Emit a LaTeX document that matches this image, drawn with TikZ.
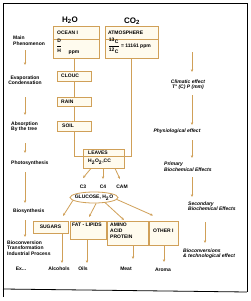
\documentclass[tikz,border=0pt]{standalone}
\usepackage{fontspec}
\setmainfont{Liberation Sans}
\usetikzlibrary{arrows.meta,shapes.geometric}
\definecolor{gold}{RGB}{208,160,88}
\definecolor{cream}{RGB}{255,251,238}
\begin{document}
\begin{tikzpicture}[x=1pt,y=-1pt,
  box/.style={draw=gold, fill=cream, line width=0.8pt, inner sep=0, rectangle},
  t/.style={font=\fontsize{5}{5.5}\selectfont\bfseries, inner sep=0, text=black},
  it/.style={font=\fontsize{5}{5.5}\selectfont\bfseries\itshape, inner sep=0, text=black},
  hd/.style={font=\fontsize{8}{9}\selectfont\bfseries, inner sep=0},
  ln/.style={draw=gold, line width=0.8pt},
  arr/.style={ln, -{Stealth[length=2.8pt,width=2.4pt]}},
]
\fill[white] (0,0) rectangle (250,301);
\useasboundingbox (0,0) rectangle (250,301);
% frame
\draw[black, line width=0.8pt] (3,297) -- (3,3) -- (247,3) -- (247,292);
\draw[black, line width=0.8pt] (3,289) -- (247,292);

% headers
\node[hd] (h2o) at (70,20) {H\textsubscript{2}O};
\node[hd] (co2) at (132,21) {CO\textsubscript{2}};

% boxes
\node[box, minimum width=46pt, minimum height=32pt] (ocean) at (76,42) {};
\node[box, minimum width=53pt, minimum height=32pt] (atm) at (131.5,42) {};
\node[box, minimum width=34pt, minimum height=10pt] (clouc) at (74,76) {};
\node[box, minimum width=34pt, minimum height=9pt] (rain) at (74,101.5) {};
\node[box, minimum width=34pt, minimum height=10pt] (soil) at (74,126) {};
\node[box, minimum width=41pt, minimum height=19pt] (leaves) at (103.5,158.5) {};
\node[box, minimum width=35pt, minimum height=12pt] (sug) at (50.5,227) {};
\node[box, minimum width=36pt, minimum height=18pt] (fat) at (88,230) {};
\node[box, minimum width=41pt, minimum height=24pt] (amino) at (127.5,233) {};
\node[box, minimum width=29pt, minimum height=24pt] (oth) at (163.5,233) {};
\node[draw=gold, fill=white, line width=0.8pt, ellipse, inner sep=0,
      minimum width=48pt, minimum height=11pt] (glu) at (94,197.5) {};

% dividers
\draw[ln] (ocean.west |- 0,39) -- (ocean.east |- 0,39);
\draw[ln] (atm.west |- 0,39) -- (atm.east |- 0,39);
\draw[ln] (leaves.west |- 0,156) -- (leaves.east |- 0,156);

% box texts
\node[t, anchor=west] (oceant) at (57,33) {OCEAN I};
\node[t, anchor=west] (dh) at (56,45.5) {$\displaystyle{\hbox{D}\over\hbox{H}}$};
\node[t] (ppm) at (74,52.5) {ppm};
\node[t, anchor=west] (atmt) at (108,33) {ATMOSPHERE};
\node[t, anchor=west] (cc) at (107.5,45.5) {$\displaystyle{\hbox{\textsuperscript{13}C}\over\hbox{\textsuperscript{12}C}}$ = 11161 ppm};
\node[t, anchor=west] (cloudt) at (61,76) {CLOUC};
\node[t, anchor=west] (raint) at (61,101.5) {RAIN};
\node[t, anchor=west] (soilt) at (62,126) {SOIL};
\node[t, anchor=west] (leavest) at (88,152.5) {LEAVES};
\node[t, anchor=west] (leavesb) at (88,162) {H\textsubscript{2}O\textsubscript{2},CC};
\node[t] (glut) at (94,197.5) {GLUCOSE, H\textsubscript{2}O};
\node[t] (sugt) at (50.5,227) {SUGARS};
\node[t, anchor=west] (fatt) at (72,224.5) {FAT - LIPIDS};
\node[t, anchor=west, align=left] (aminot) at (110,231) {AMINO\\[0.6pt]ACID\\[0.6pt]PROTEIN};
\node[t, anchor=west] (otht) at (153,230.5) {OTHER I};

% C3 C4 CAM
\node[t] (c3) at (83,187) {C3};
\node[t] (c4) at (103,187) {C4};
\node[t] (cam) at (122,187) {CAM};

% products
\node[t] (lex) at (21,269) {Ex...};
\node[t] (alc) at (59,269) {Alcohols};
\node[t] (oil) at (83,269) {Oils};
\node[t] (mea) at (126,269) {Meat};
\node[t] (aro) at (163,270) {Aroma};

% water / carbon path
\draw[ln] (clouc.north |- ocean.south) -- (clouc.north);
\draw[ln] (clouc.south) -- (rain.north);
\draw[ln] (rain.south) -- (soil.north);
\coordinate (lvl) at (leaves.west |- 0,156);
\coordinate (lvr) at (leaves.east |- 0,156);
\draw[ln] (soil.south) |- (lvl);
\draw[ln] ([xshift=-0.5pt]atm.south) |- (lvr);

% leaves to C3 C4 CAM
\draw[arr] ([xshift=-12.5pt]leaves.south) -- ([yshift=7pt]c3.north);
\draw[arr] ([xshift=-0.5pt]leaves.south) -- ([yshift=6pt]c4.north);
\draw[arr] ([xshift=11.5pt]leaves.south) -- ([xshift=-2pt,yshift=6pt]cam.north);

% glucose to boxes
\coordinate (gs) at (63,216);
\coordinate (gf) at (89,217);
\coordinate (ga) at (124,220);
\coordinate (go) at (153,215.5);
\draw[arr] (glu.188) -- (gs);
\draw[arr] (glu.290) -- (gf);
\draw[arr] (glu.335) -- (ga);
\draw[arr] (glu.355) -- (go);

% products arrows
\coordinate (alcT) at (62,263);
\coordinate (oilT) at (87,263);
\coordinate (meaT) at (133,259);
\coordinate (aroT) at (164,262);
\draw[arr] (sug.south -| alcT) -- (alcT);
\draw[arr] (fat.south -| oilT) -- (oilT);
\draw[arr] (amino.south -| meaT) -- (meaT);
\draw[arr] (oth.south -| aroT) -- (aroT);

% left column
\node[t, anchor=west, align=left] (lmain) at (13,40.5) {Main\\Phenomenon};
\node[t, align=center] (levap) at (25,80) {Evaporation\\Condensation};
\node[t, anchor=west, align=left] (labs) at (11,126.5) {Absorption\\By the tree};
\node[t, anchor=west] (lphot) at (11,163) {Photosynthesis};
\node[t, anchor=west] (lbios) at (13,211) {Biosynthesis};
\node[t, anchor=west, align=left] (lbioc) at (7,248) {Bioconversion\\Transformation\\Industrial Process};
\coordinate (a1s) at (25,50);  \coordinate (a1e) at (25,65);
\coordinate (a2s) at (25,97);  \coordinate (a2e) at (25,115);
\coordinate (a3s) at (25,143); \coordinate (a3e) at (25,153);
\coordinate (a4s) at (25,172); \coordinate (a4e) at (25,203);
\coordinate (a5s) at (25,220); \coordinate (a5e) at (25,237);
\draw[arr] (a1s) -- (a1e);
\draw[arr] (a2s) -- (a2e);
\draw[arr] (a3s) -- (a3e);
\draw[arr] (a4s) -- (a4e);
\draw[arr] (a5s) -- (a5e);

% right column
\node[it, align=center] (rclim) at (188,84.5) {Climatic effect\\T° (C) P (mm)};
\node[it] (rphys) at (177,131) {Physiological effect};
\node[it, anchor=west, align=left] (rprim) at (164,166.5) {Primary\\Biochemical Effects};
\node[it, anchor=west, align=left] (rsec) at (188,206) {Secondary\\Biochemical Effects};
\node[it, anchor=west, align=left] (rbioc) at (183,253.5) {Bioconversions\\\& technological effect};
\coordinate (b1s) at (192,52);  \coordinate (b1e) at (192,72);
\coordinate (b2s) at (192,95);  \coordinate (b2e) at (192,125);
\coordinate (b3s) at (192,140); \coordinate (b3e) at (192,158);
\coordinate (b4s) at (192,177); \coordinate (b4e) at (192,197);
\coordinate (b5s) at (205,222); \coordinate (b5e) at (205,243);
\draw[arr] (b1s) -- (b1e);
\draw[arr] (b2s) -- (b2e);
\draw[arr] (b3s) -- (b3e);
\draw[arr] (b4s) -- (b4e);
\draw[arr] (b5s) -- (b5e);
\end{tikzpicture}
\end{document}
